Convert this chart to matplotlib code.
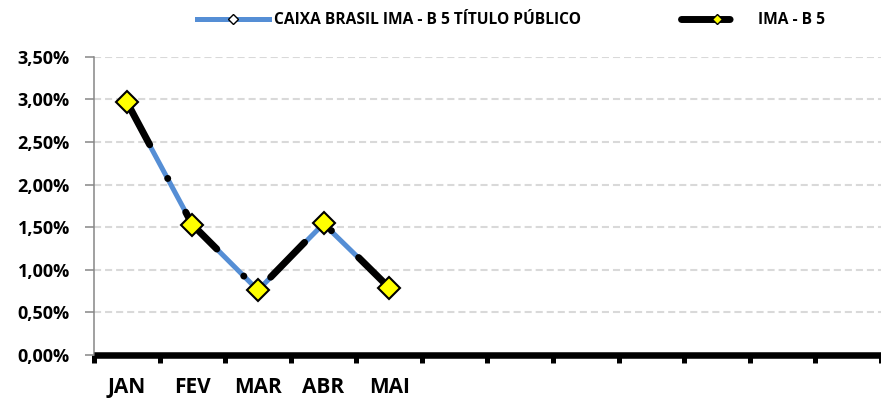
import matplotlib
matplotlib.use("Agg")
import matplotlib.pyplot as plt
from matplotlib.lines import Line2D
from matplotlib.ticker import FixedLocator, FuncFormatter
import numpy as np

# data (percent)
months = ["JAN", "FEV", "MAR", "ABR", "MAI", "", "", "", "", "", "", ""]
caixa = [2.96, 1.53, 0.76, 1.54, 0.79]
ima_b5 = [2.97, 1.53, 0.76, 1.55, 0.79]
yticks = [0.0, 0.5, 1.0, 1.5, 2.0, 2.5, 3.0, 3.5]
names = ["CAIXA BRASIL IMA - B 5 TÍTULO PÚBLICO", "IMA - B 5"]

plt.rcParams['font.family'] = ['Open Sans', 'DejaVu Sans']
plt.rcParams['font.weight'] = 'bold'

blue = '#558ed5'
dashdot = (0, (7, 5.5, 0.01, 5.5))

fig = plt.figure(figsize=(8.81, 4.0), dpi=100)
ax = fig.add_axes([94 / 881, 45 / 400, 787 / 881, 298.3 / 400])

x = np.arange(1, len(caixa) + 1)
ax.plot(x, caixa, color=blue, lw=3.6, marker='D', ms=5, mfc='white',
        mec='black', mew=1, zorder=3, solid_capstyle='round')
ax.plot(x, ima_b5, color='black', lw=5, linestyle=dashdot,
        dash_capstyle='round', zorder=4)
ax.plot(x, ima_b5, linestyle='none', marker='D', ms=11, mfc='#ffff00',
        mec='black', mew=1.5, zorder=5)

ax.set_xlim(0.5, len(months) + 0.5)
ax.set_ylim(0, 3.5)

# y axis
ax.set_yticks(yticks)
ax.yaxis.set_major_formatter(FuncFormatter(lambda v, p: f"{v:.2f}%".replace('.', ',')))
ax.tick_params(axis='y', length=6.5, width=1.1, color='#868686', pad=11,
               labelsize=13)
ax.yaxis.grid(True, color='#d9d9d9', lw=1.5, linestyle=(0, (3.4, 1.9)))
ax.set_axisbelow(True)

# x axis: ticks between categories, labels at centres
ax.xaxis.set_major_locator(FixedLocator(np.arange(0.5, len(months) + 1)))
ax.xaxis.set_major_formatter(FuncFormatter(lambda v, p: ""))
ax.xaxis.set_minor_locator(FixedLocator(np.arange(1, len(months) + 1)))
ax.set_xticklabels(months, minor=True)
ax.tick_params(axis='x', which='major', length=5.8, width=3.6, color='black')
ax.tick_params(axis='x', which='minor', length=0, pad=16, labelsize=15)

for s in ['top', 'right']:
    ax.spines[s].set_visible(False)
ax.spines['left'].set_color('#868686')
ax.spines['left'].set_linewidth(1.1)
ax.spines['bottom'].set_color('black')
ax.spines['bottom'].set_linewidth(4.7)
ax.spines['bottom'].set_capstyle('butt')

# legend
h1 = Line2D([], [], color=blue, lw=3.6, marker='D', ms=5, mfc='white',
            mec='black', mew=1)
h2 = Line2D([], [], color='black', lw=5, linestyle=dashdot,
            dash_capstyle='round', marker='D', ms=5, mfc='#ffff00',
            mec='black', mew=1)
fig.legend([h1, h2], names, loc='center left',
           bbox_to_anchor=(197 / 881, 1 - 20 / 400), ncol=2, frameon=False,
           borderpad=0, borderaxespad=0, handlelength=4.63,
           handletextpad=0.32, columnspacing=6.4,
           prop={'weight': 'bold', 'size': 11.2})

fig.savefig("out.png", dpi=100)
